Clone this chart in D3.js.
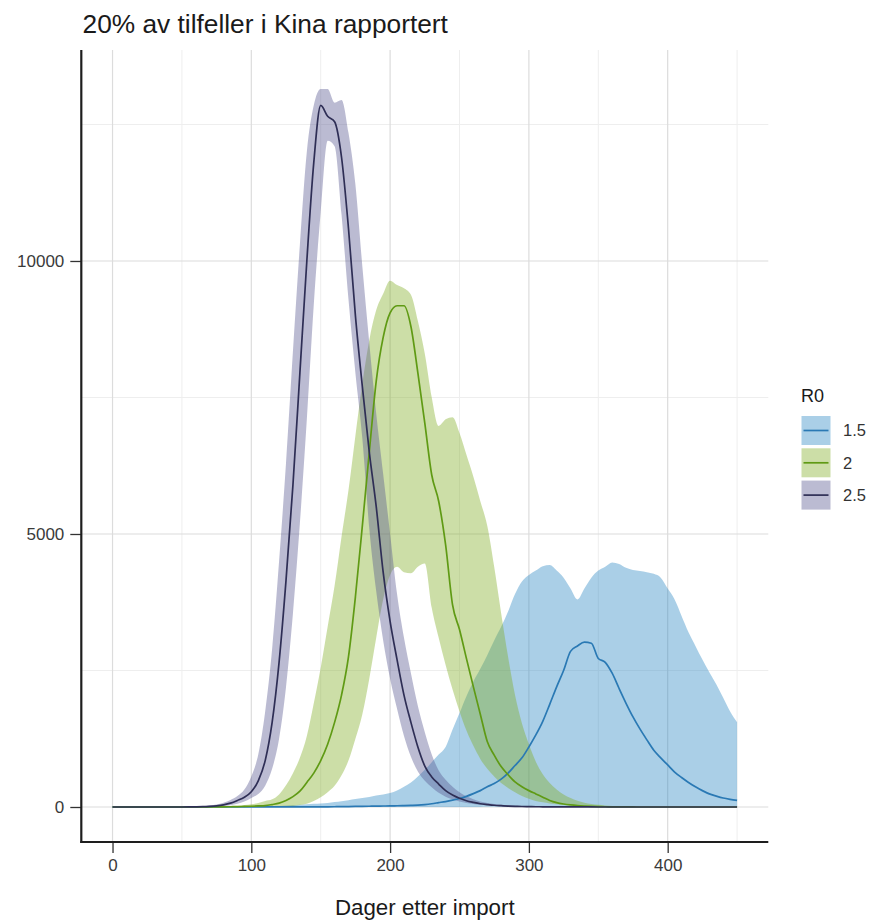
<!DOCTYPE html>
<html><head><meta charset="utf-8">
<script src="https://cdn.jsdelivr.net/npm/d3@7/dist/d3.min.js"></script>
<style>
body{margin:0;background:#fff}
svg{display:block}
text{font-family:"Liberation Sans",Arial,Helvetica,sans-serif;}
</style></head>
<body>
<svg id="chart" width="874" height="921"></svg>
<script>
// ---- data ----
const title = "20% av tilfeller i Kina rapportert";
const xTitle = "Dager etter import";
const legendTitle = "R0";
const seriesNames = ["1.5", "2", "2.5"];
const xTicks = [0, 100, 200, 300, 400];
const yTicks = [0, 5000, 10000];
const xMinor = [50, 150, 250, 350, 450];
const yMinor = [2500, 7500, 12500];

const days = [
  0,5,10,15,20,25,30,35,40,45,
  50,55,60,65,70,75,80,85,90,95,
  100,105,110,115,120,125,130,135,140,145,
  150,155,160,165,170,175,180,185,190,195,
  200,205,210,215,220,225,230,235,240,245,
  250,255,260,265,270,275,280,285,290,295,
  300,305,310,315,320,325,330,335,340,345,
  350,355,360,365,370,375,380,385,390,395,
  400,405,410,415,420,425,430,435,440,445,
  450];

// R0 = 1.5
const mid15 = [
  0,0,0,0,0,0,0,0,0,0,
  0,0,0,0,0,0,0,1,1,1,
  1,1,1,2,2,2,2,3,3,3,
  3,4,5,6,8,10,12,14,16,18,
  20,23,26,30,35,45,60,80,100,125,
  155,195,245,300,370,430,510,620,760,900,
  1100,1320,1570,1880,2200,2500,2850,2950,3020,3000,
  2720,2650,2450,2170,1900,1650,1430,1230,1040,900,
  770,640,540,450,370,300,240,200,165,140,
  120];
const lo15 = [
  0,0,0,0,0,0,0,0,0,0,
  0,0,0,0,0,0,0,0,0,0,
  0,0,0,0,0,0,0,0,0,0,
  0,0,0,0,0,0,0,0,0,0,
  0,0,0,0,0,0,0,0,0,0,
  1,1,2,2,3,3,4,4,5,5,
  6,6,7,7,8,8,9,9,10,10,
  10,10,10,10,10,10,10,10,10,10,
  10,10,9,9,8,8,8,7,7,7,
  6];
const hi15 = [
  0,0,0,0,0,0,0,0,0,0,
  0,0,0,0,0,0,1,1,2,3,
  5,8,12,16,20,27,35,42,50,58,
  65,75,90,105,125,145,165,185,210,230,
  255,300,370,450,560,680,820,960,1100,1420,
  1720,2030,2300,2530,2780,3050,3300,3580,3900,4130,
  4250,4330,4410,4430,4330,4200,4000,3800,4000,4200,
  4330,4400,4480,4450,4380,4340,4320,4300,4270,4200,
  4000,3800,3500,3200,2950,2700,2470,2250,2000,1750,
  1550];

// R0 = 2
const mid20 = [
  0,0,0,0,0,0,0,0,0,0,
  0,0,0,0,1,2,3,5,7,10,
  14,19,25,45,70,120,190,290,450,620,
  850,1150,1550,2050,2750,3850,5150,6500,7800,8600,
  9050,9180,9180,8800,7950,7030,6080,5600,4800,3700,
  3250,2720,2200,1700,1200,950,740,590,460,370,
  300,240,180,120,80,55,38,26,18,12,
  8,5,3,2,1,1,0,0,0,0,
  0,0,0,0,0,0,0,0,0,0,
  0];
const lo20 = [
  0,0,0,0,0,0,0,0,0,0,
  0,0,0,0,0,0,0,0,0,0,
  2,4,6,9,12,16,20,35,60,110,
  180,270,390,580,850,1250,1700,2350,3100,3800,
  4250,4400,4300,4280,4400,4460,3650,3100,2600,2150,
  1750,1400,1120,880,700,560,440,350,270,200,
  150,110,85,65,50,38,28,20,14,10,
  7,5,3,2,1,1,0,0,0,0,
  0,0,0,0,0,0,0,0,0,0,
  0];
const hi20 = [
  0,0,0,0,0,0,0,0,0,0,
  0,0,1,2,3,5,8,12,20,35,
  50,75,110,140,230,400,620,900,1300,1900,
  2550,3300,4050,4950,5800,6800,7750,8550,9100,9400,
  9640,9560,9500,9380,8900,8300,7500,6980,7100,7140,
  6850,6450,6050,5600,5150,4400,3550,2750,2050,1530,
  1150,830,600,440,320,230,165,115,80,55,
  40,28,20,14,10,7,5,3,2,1,
  0,0,0,0,0,0,0,0,0,0,
  0];

// R0 = 2.5
const mid25 = [
  0,0,0,0,0,0,0,0,0,0,
  0,1,3,6,12,22,40,70,120,180,
  280,480,850,1550,2650,4150,5900,7950,10000,11800,
  12850,12650,12550,11900,10600,9000,7700,6500,5500,4300,
  3400,2700,2050,1550,1100,750,550,420,300,220,
  160,115,85,60,45,32,24,17,12,9,
  7,5,4,3,2,2,1,1,1,1,
  0,0,0,0,0,0,0,0,0,0,
  0,0,0,0,0,0,0,0,0,0,
  0];
const lo25 = [
  0,0,0,0,0,0,0,0,0,0,
  0,0,0,1,3,8,18,33,60,100,
  165,240,390,700,1250,2200,3550,5200,7100,9200,
  10900,12200,12100,10850,9300,7950,6750,5100,3950,3050,
  2350,1800,1300,920,650,480,360,260,190,140,
  100,75,55,40,30,22,16,12,9,6,
  5,4,3,2,1,1,1,0,0,0,
  0,0,0,0,0,0,0,0,0,0,
  0,0,0,0,0,0,0,0,0,0,
  0];
const hi25 = [
  0,0,0,0,0,0,0,0,0,0,
  1,2,5,10,30,45,80,130,200,320,
  560,960,1750,2900,4500,6300,8350,10300,12000,12850,
  13150,13150,12900,12950,12350,11400,9900,8500,7200,6100,
  5000,3900,3100,2450,1850,1370,960,670,500,370,
  270,195,140,100,75,55,40,30,22,16,
  12,9,7,5,4,3,2,2,1,1,
  0,0,0,0,0,0,0,0,0,0,
  0,0,0,0,0,0,0,0,0,0,
  0];

const lineColors = ["#2a79b4", "#5f9a14", "#2e2e55"];
const ribbonColors = ["#2a87c2", "#80ad22", "#55558e"];

// ---- chart ----
const svg = d3.select("#chart");
const W = 874, H = 921;
const panel = {left: 81.3, right: 768.3, top: 50, bottom: 842};

const x = d3.scaleLinear().domain([-22.5, 472.5]).range([panel.left, panel.right]);
const y = d3.scaleLinear().domain([-641, 13864]).range([panel.bottom, panel.top]);

svg.append("rect").attr("width", W).attr("height", H).attr("fill", "#fff");

// grid
const g = svg.append("g");
g.selectAll(".vmin").data(xMinor).join("line")
  .attr("x1", d => x(d)).attr("x2", d => x(d))
  .attr("y1", panel.top).attr("y2", panel.bottom)
  .attr("stroke", "#eeeeee").attr("stroke-width", 1);
g.selectAll(".hmin").data(yMinor).join("line")
  .attr("y1", d => y(d)).attr("y2", d => y(d))
  .attr("x1", panel.left).attr("x2", panel.right)
  .attr("stroke", "#eeeeee").attr("stroke-width", 1);
g.selectAll(".vmaj").data(xTicks).join("line")
  .attr("x1", d => x(d)).attr("x2", d => x(d))
  .attr("y1", panel.top).attr("y2", panel.bottom)
  .attr("stroke", "#dcdcdc").attr("stroke-width", 1.2);
g.selectAll(".hmaj").data(yTicks).join("line")
  .attr("y1", d => y(d)).attr("y2", d => y(d))
  .attr("x1", panel.left).attr("x2", panel.right)
  .attr("stroke", "#dcdcdc").attr("stroke-width", 1.2);

// series
const series = [
  {name: seriesNames[0], mid: mid15, lo: lo15, hi: hi15},
  {name: seriesNames[1], mid: mid20, lo: lo20, hi: hi20},
  {name: seriesNames[2], mid: mid25, lo: lo25, hi: hi25}
];

const area = d3.area()
  .x((d, i) => x(days[i]))
  .y0((d) => y(d[0]))
  .y1((d) => y(d[1]))
  .curve(d3.curveMonotoneX);
const line = d3.line()
  .x((d, i) => x(days[i]))
  .y(d => y(d))
  .curve(d3.curveMonotoneX);

series.forEach((s, k) => {
  const pts = s.lo.map((v, i) => [v, s.hi[i]]);
  svg.append("path").datum(pts)
    .attr("d", area)
    .attr("fill", ribbonColors[k])
    .attr("fill-opacity", 0.4);
});
series.forEach((s, k) => {
  svg.append("path").datum(s.mid)
    .attr("d", line)
    .attr("fill", "none")
    .attr("stroke", lineColors[k])
    .attr("stroke-width", 1.7)
    .attr("stroke-linejoin", "round");
});

// axes
const yAxis = d3.axisLeft(y).tickValues(yTicks).tickSize(11).tickPadding(6).tickFormat(d3.format("d"));
const yg = svg.append("g").attr("transform", `translate(${panel.left},0)`).call(yAxis);
const xAxis = d3.axisBottom(x).tickValues(xTicks).tickSize(11).tickPadding(6).tickFormat(d3.format("d"));
const xg = svg.append("g").attr("transform", `translate(0,${panel.bottom})`).call(xAxis);
[yg, xg].forEach(a => {
  a.select(".domain").remove();
  a.selectAll(".tick line").attr("stroke", "#333").attr("stroke-width", 1.3);
  a.selectAll(".tick text").attr("fill", "#3a3a3a").style("font-size", "17px")
    .style("font-family", '"Liberation Sans", Arial, sans-serif');
});
svg.append("line").attr("x1", panel.left).attr("x2", panel.left)
  .attr("y1", panel.top).attr("y2", panel.bottom + 1)
  .attr("stroke", "#1e1e1e").attr("stroke-width", 2.2);
svg.append("line").attr("x1", panel.left - 1).attr("x2", panel.right)
  .attr("y1", panel.bottom).attr("y2", panel.bottom)
  .attr("stroke", "#1e1e1e").attr("stroke-width", 2.2);

// titles
svg.append("text").attr("x", 82.5).attr("y", 33).text(title)
  .attr("fill", "#1a1a1a").style("font-size", "26.3px");
svg.append("text").attr("x", (panel.left + panel.right) / 2).attr("y", 915)
  .attr("text-anchor", "middle").text(xTitle)
  .attr("fill", "#1a1a1a").style("font-size", "22.3px");

// legend
const lg = svg.append("g");
lg.append("text").attr("x", 801).attr("y", 402).text(legendTitle)
  .attr("fill", "#1a1a1a").style("font-size", "18px");
const keyY = [416, 448.3, 480.6];
series.forEach((s, k) => {
  const ky = keyY[k];
  lg.append("rect").attr("x", 801.5).attr("y", ky).attr("width", 29).attr("height", 29)
    .attr("fill", ribbonColors[k]).attr("fill-opacity", 0.4);
  lg.append("line").attr("x1", 803.5).attr("x2", 828.5)
    .attr("y1", ky + 14.5).attr("y2", ky + 14.5)
    .attr("stroke", lineColors[k]).attr("stroke-width", 1.7);
  lg.append("text").attr("x", 843).attr("y", ky + 14.5).attr("dy", "0.35em")
    .text(s.name).attr("fill", "#333").style("font-size", "16.5px");
});
</script>
</body></html>
